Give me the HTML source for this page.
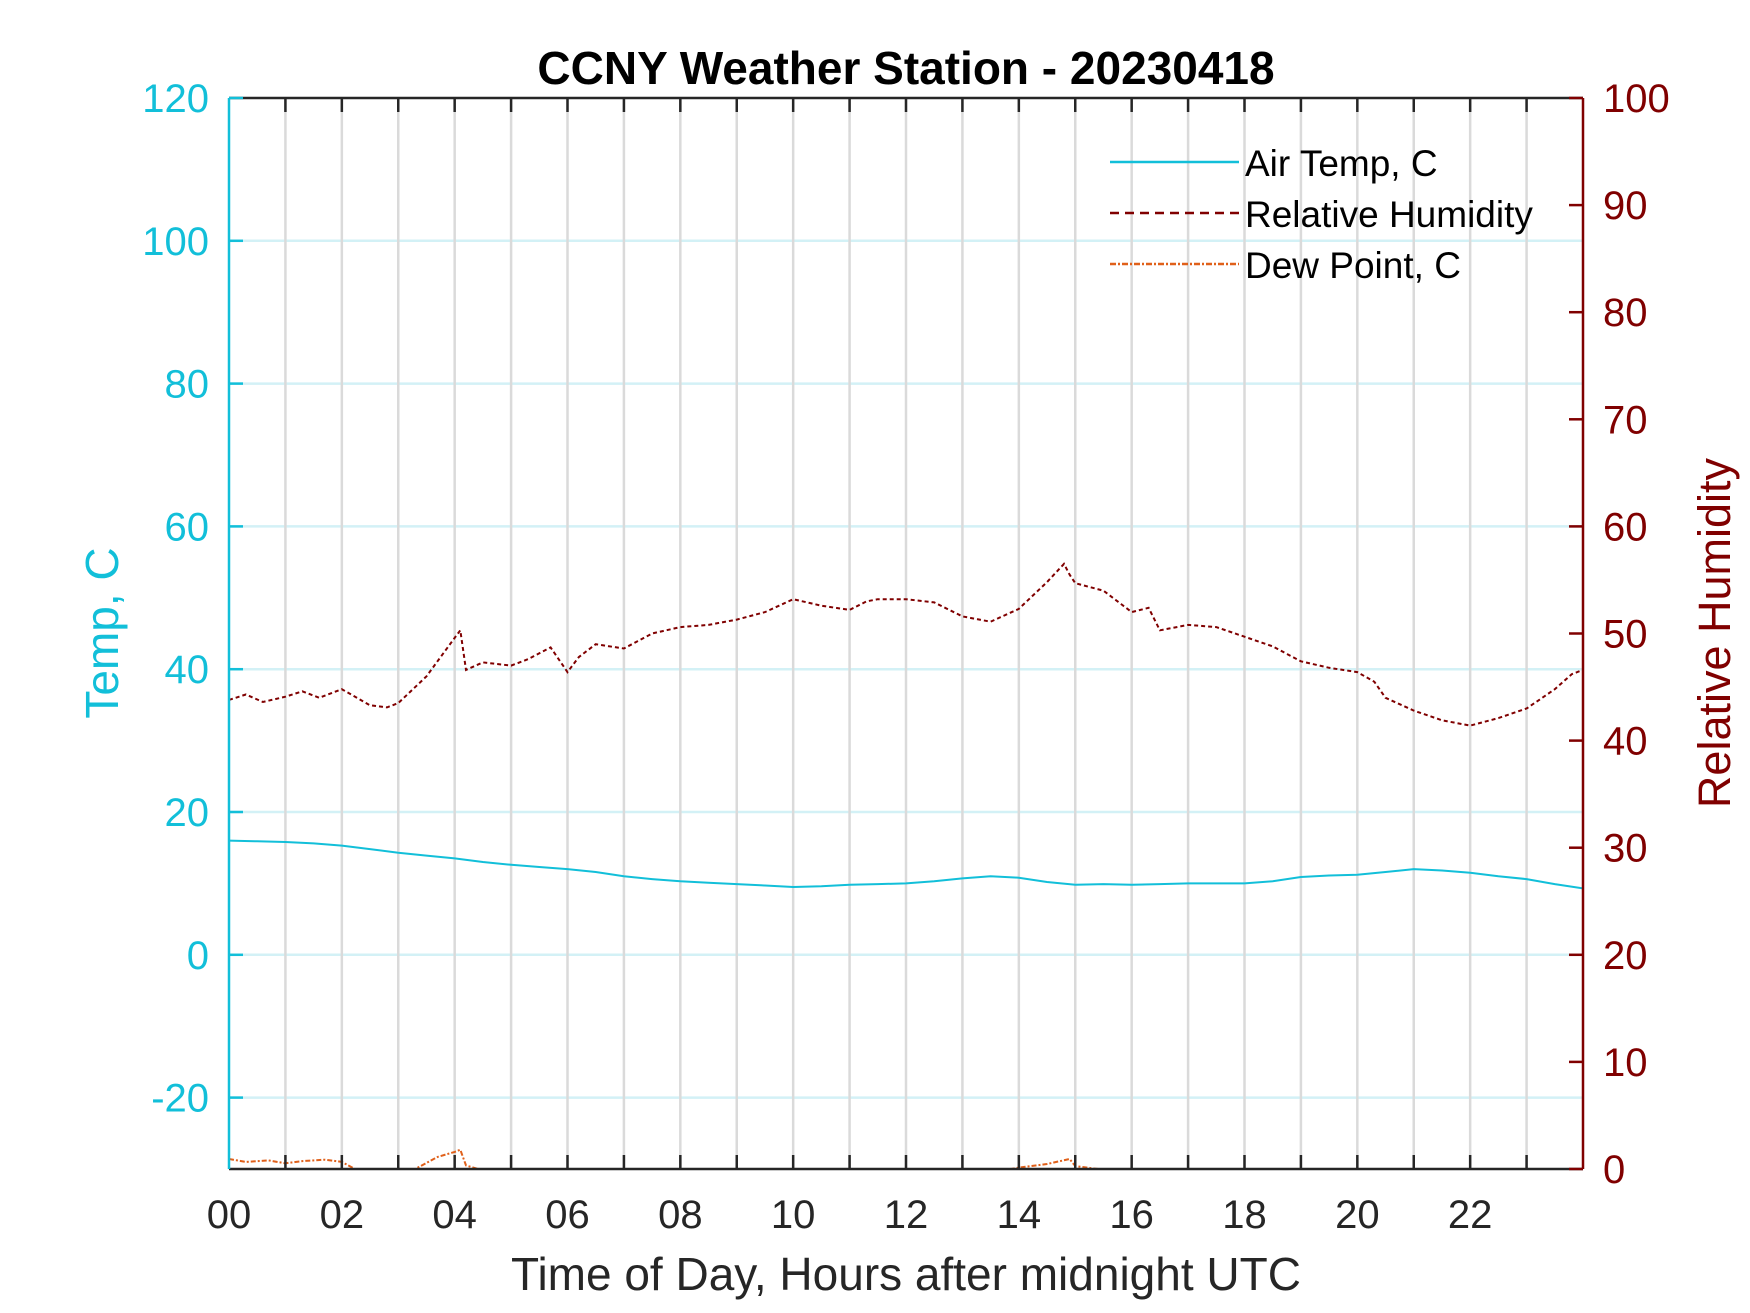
<!DOCTYPE html>
<html><head><meta charset="utf-8"><style>
html,body{margin:0;padding:0;background:#fff;}
svg{display:block;font-family:"Liberation Sans",Arial,sans-serif;}
</style></head><body>
<svg id="chart" width="1750" height="1313" viewBox="0 0 1750 1313" xmlns="http://www.w3.org/2000/svg">
<defs><clipPath id="plotclip"><rect x="229" y="98" width="1354" height="1071"/></clipPath></defs>
<rect x="0" y="0" width="1750" height="1313" fill="#fff"/>
<g id="grid"></g>
<g id="series" clip-path="url(#plotclip)"></g>
<g id="axes"></g>
<text x="906" y="84" text-anchor="middle" font-size="46" font-weight="bold" fill="#000">CCNY Weather Station - 20230418</text>
<text x="906" y="1290" text-anchor="middle" font-size="46" fill="#262626">Time of Day, Hours after midnight UTC</text>
<text transform="translate(118,633) rotate(-90)" text-anchor="middle" font-size="46" fill="#12bfd9">Temp, C</text>
<text transform="translate(1730,633) rotate(-90)" text-anchor="middle" font-size="45" fill="#800000">Relative Humidity</text>
<g>
<line x1="1110" y1="162" x2="1239" y2="162" stroke="#12bfd9" stroke-width="2.5"/>
<text x="1245" y="176" font-size="37" fill="#000">Air Temp, C</text>
<line x1="1110" y1="213" x2="1239" y2="213" stroke="#800000" stroke-width="2.5" stroke-dasharray="9,6"/>
<text x="1245" y="227" font-size="37" fill="#000">Relative Humidity</text>
<line x1="1110" y1="264" x2="1239" y2="264" stroke="#e0601a" stroke-width="2.5" stroke-dasharray="6,2,2,2"/>
<text x="1245" y="278" font-size="37" fill="#000">Dew Point, C</text>
</g>
</svg>
<script>
const tempHours = [0,0.5,1,1.5,2,2.5,3,3.5,4,4.5,5,5.5,6,6.5,7,7.5,8,8.5,9,9.5,10,10.5,11,11.5,12,12.5,13,13.5,14,14.5,15,15.5,16,16.5,17,17.5,18,18.5,19,19.5,20,20.5,21,21.5,22,22.5,23,23.5,24];
const tempValues = [16,15.9,15.8,15.6,15.3,14.8,14.3,13.9,13.5,13.0,12.6,12.3,12.0,11.6,11.0,10.6,10.3,10.1,9.9,9.7,9.5,9.6,9.8,9.9,10.0,10.3,10.7,11.0,10.8,10.2,9.8,9.9,9.8,9.9,10.0,10.0,10.0,10.3,10.9,11.1,11.2,11.6,12.0,11.8,11.5,11.0,10.6,9.9,9.3];
const rhHours = [0,0.3,0.6,1,1.3,1.6,2,2.2,2.5,2.8,3,3.5,4,4.1,4.2,4.5,5,5.3,5.7,6,6.2,6.5,7,7.5,8,8.5,9,9.5,10,10.5,11,11.3,11.5,12,12.5,13,13.5,14,14.5,14.8,14.9,15,15.5,16,16.3,16.5,17,17.5,18,18.5,19,19.5,20,20.3,20.5,21,21.5,22,22.5,23,23.5,23.8,24];
const rhValues = [43.8,44.3,43.6,44.1,44.6,44.0,44.8,44.2,43.3,43.1,43.5,46.0,49.6,50.3,46.6,47.3,47.0,47.6,48.7,46.4,47.8,49.0,48.6,50.0,50.6,50.8,51.3,52.0,53.2,52.6,52.2,53.0,53.2,53.2,52.9,51.6,51.1,52.3,54.8,56.5,55.5,54.7,54.0,52.0,52.4,50.3,50.8,50.6,49.7,48.8,47.4,46.8,46.4,45.5,44.0,42.8,41.9,41.4,42.1,43.0,44.8,46.2,46.6];
const dewHours = [0,0.3,0.7,1,1.3,1.7,2,2.3,2.7,3,3.3,3.7,4,4.1,4.2,4.5,5,6,8,10,12,13,13.5,14,14.5,14.9,15,15.3,15.6,16,20,24];
const dewValues = [-28.6,-29.0,-28.8,-29.2,-28.9,-28.7,-29.0,-30.3,-31,-31,-30.0,-28.3,-27.6,-27.3,-29.5,-30.2,-31,-31,-31,-31,-31,-30.3,-30.5,-29.8,-29.3,-28.6,-29.6,-29.9,-30.2,-31,-31,-31];
const xTickLabels = ["00","02","04","06","08","10","12","14","16","18","20","22"];
const yLeftTicks = [-20,0,20,40,60,80,100,120];
const yRightTicks = [0,10,20,30,40,50,60,70,80,90,100];

const L=229,R=1583,T=98,B=1169;
const xs = h => L + (h/24)*(R-L);
const yT = v => B - (v+30)/150*(B-T);
const yR = v => B - v/100*(B-T);
const NS="http://www.w3.org/2000/svg";
function mk(tag,attrs,parent){const e=document.createElementNS(NS,tag);for(const k in attrs)e.setAttribute(k,attrs[k]);parent.appendChild(e);return e;}
const grid=document.getElementById('grid'),axes=document.getElementById('axes'),series=document.getElementById('series');

for(const v of yLeftTicks){ if(v===120) continue;
  const g=mk('line',{x1:L,x2:R,y1:yT(v),y2:yT(v),stroke:'#d3f1f6','stroke-width':2.5},grid);
  
  
}
for(let h=1;h<24;h++){
  const g=mk('line',{x1:xs(h),x2:xs(h),y1:T,y2:B,stroke:'#dadada','stroke-width':2.5},grid);
  
  
}
function poly(hours,vals,fy,color,dash,name){
  const p=mk('polyline',{points:hours.map((h,i)=>xs(h).toFixed(1)+','+fy(vals[i]).toFixed(1)).join(' '),fill:'none',stroke:color,'stroke-width':2,'stroke-dasharray':dash},series);
  
  
}
poly(tempHours,tempValues,yT,'#12bfd9','none','air-temp-line');
poly(rhHours,rhValues,yR,'#800000','4,3','relative-humidity-line');
poly(dewHours,dewValues,yT,'#e0601a','5,2,2,2','dew-point-line');

let a;
a=mk('line',{x1:L,x2:R,y1:T,y2:T,stroke:'#262626','stroke-width':2.5},axes);


a=mk('line',{x1:L,x2:R,y1:B,y2:B,stroke:'#262626','stroke-width':2.5},axes);


a=mk('line',{x1:L,x2:L,y1:T,y2:B,stroke:'#12bfd9','stroke-width':2.5},axes);


a=mk('line',{x1:R,x2:R,y1:T,y2:B,stroke:'#800000','stroke-width':2.5},axes);


for(let h=1;h<24;h++){
  a=mk('line',{x1:xs(h),x2:xs(h),y1:T,y2:T+14,stroke:'#262626','stroke-width':2.5},axes);
  
  
  a=mk('line',{x1:xs(h),x2:xs(h),y1:B,y2:B-14,stroke:'#262626','stroke-width':2.5},axes);
  
  
}
xTickLabels.forEach((lab,i)=>{
  const t=mk('text',{x:xs(i*2),y:1228,'text-anchor':'middle','font-size':40,fill:'#262626'},axes);
  t.textContent=lab;
  
  
});
for(const v of yLeftTicks){
  a=mk('line',{x1:L,x2:L+14,y1:yT(v),y2:yT(v),stroke:'#12bfd9','stroke-width':2.5},axes);
  
  
  const t=mk('text',{x:209,y:yT(v)+14,'text-anchor':'end','font-size':40,fill:'#12bfd9'},axes);
  t.textContent=v;
  
  
}
for(const v of yRightTicks){
  a=mk('line',{x1:R,x2:R-14,y1:yR(v),y2:yR(v),stroke:'#800000','stroke-width':2.5},axes);
  
  
  const t=mk('text',{x:1603,y:yR(v)+14,'text-anchor':'start','font-size':40,fill:'#800000'},axes);
  t.textContent=v;
  
  
}
</script>
</body></html>
